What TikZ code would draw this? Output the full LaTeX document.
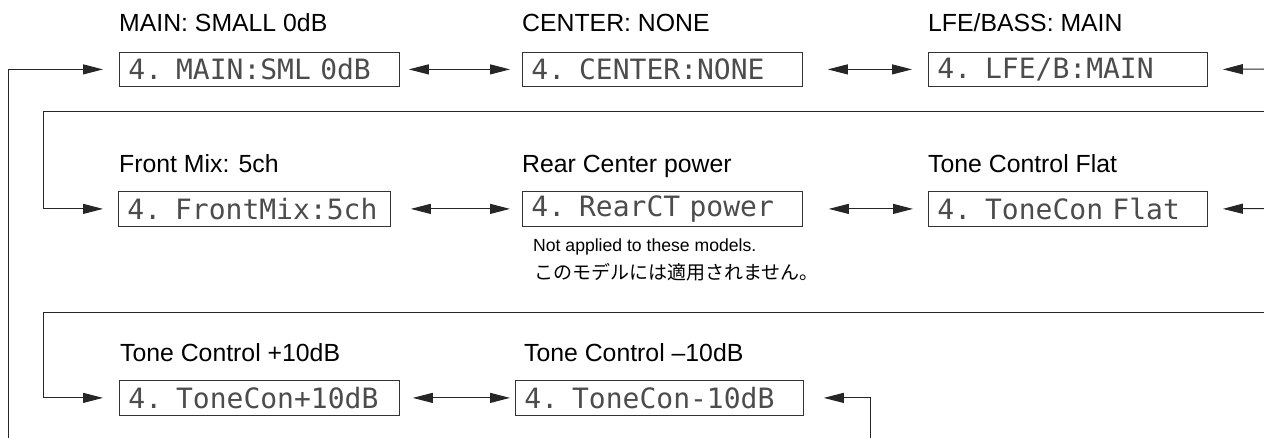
\documentclass[tikz,border=0pt]{standalone}
\usepackage{fontspec}
\setmainfont{Liberation Sans}
\newfontfamily\lcdfont{DejaVu Sans Mono}
\newfontfamily\jpfont{Noto Sans CJK JP}
\usetikzlibrary{arrows.meta}
\tikzset{
  lcd/.style={draw=black!80, line width=0.8pt, anchor=north west, inner xsep=9pt, inner ysep=0pt,
    minimum height=34pt, align=left, text=black!70,
    font=\lcdfont\fontsize{28pt}{30pt}\selectfont},
  lab/.style={anchor=base west, inner sep=0pt, font=\fontsize{24.8pt}{29pt}\selectfont},
  note/.style={anchor=base west, inner sep=0pt, font=\fontsize{17.6pt}{21pt}\selectfont},
  conn/.style={draw=black!85, line width=1pt},
  tip/.style={-{Triangle[length=20pt,width=10pt]}},
  dtip/.style={{Triangle[length=20pt,width=10pt]}-{Triangle[length=20pt,width=10pt]}}
}
\begin{document}
\begin{tikzpicture}[x=1pt,y=-1pt]
\useasboundingbox (0,0) rectangle (1264,438);
% labels
\node[lab] (l1) at (119,32) {MAIN: SMALL 0dB};
\node[lab] (l2) at (522,32) {CENTER: NONE};
\node[lab] (l3) at (928,32) {LFE/BASS: MAIN};
\node[lab] (l4) at (119,173) {Front Mix: 5ch};
\node[lab] (l5) at (522,173) {Rear Center power};
\node[lab] (l6) at (928,173) {Tone Control Flat};
\node[lab] (l7) at (120,362) {Tone Control +10dB};
\node[lab] (l8) at (524,362) {Tone Control –10dB};
\node[note] (n1) at (533,252) {Not applied to these models.};
\node[note, font=\fontsize{19pt}{21pt}\selectfont] (n2) at (534,280) {\jpfont このモデルには適用されません。};
% displays
\node[lcd, text width=262pt] (b1) at (119,52) {4. MAIN:SML 0dB};
\node[lcd, text width=262pt] (b2) at (522,52) {4. CENTER:NONE};
\node[lcd, text width=261pt] (b3) at (928,52) {4. LFE/B:MAIN};
\node[lcd, text width=254pt, minimum height=35pt] (b4) at (118,191) {4. FrontMix:5ch};
\node[lcd, text width=262pt, minimum height=35pt] (b5) at (522,191) {4. RearCT power};
\node[lcd, text width=261pt, minimum height=35pt] (b6) at (928,191) {4. ToneCon Flat};
\node[lcd, text width=262pt, minimum height=35pt] (b7) at (119,380) {4. ToneCon+10dB};
\node[lcd, text width=270pt, minimum height=35pt] (b8) at (515,380) {4. ToneCon-10dB};
% free ends and corners
\coordinate (lb) at (8,438);
\coordinate (r1) at (1264,69);
\coordinate (r2) at (1264,112);
\coordinate (c2) at (43,112);
\coordinate (r2b) at (1264,208.5);
\coordinate (r3) at (1264,313);
\coordinate (c3) at (43,313);
\coordinate (rb) at (870,438);
% row 1
\draw[conn,tip] (lb) |- ([xshift=-16pt]b1.west);
\draw[conn,dtip] ([xshift=9pt]b1.east) -- ([xshift=-12pt]b2.west);
\draw[conn,dtip] ([xshift=25pt]b2.east) -- ([xshift=-16pt]b3.west);
\draw[conn,tip] (r1) -- ([xshift=15pt]b3.east);
% row 2
\draw[conn,tip] (r2) -- (c2) |- ([xshift=-15pt]b4.west);
\draw[conn,dtip] ([xshift=20pt]b4.east) -- ([xshift=-12pt]b5.west);
\draw[conn,dtip] ([xshift=26pt]b5.east) -- ([xshift=-15pt]b6.west);
\draw[conn,tip] (r2b) -- ([xshift=15pt]b6.east);
% row 3
\draw[conn,tip] (r3) -- (c3) |- ([xshift=-16pt]b7.west);
\draw[conn,dtip] ([xshift=13pt]b7.east) -- ([xshift=-5pt]b8.west);
\draw[conn,tip] (rb) |- ([xshift=20pt]b8.east);
\end{tikzpicture}
\end{document}
